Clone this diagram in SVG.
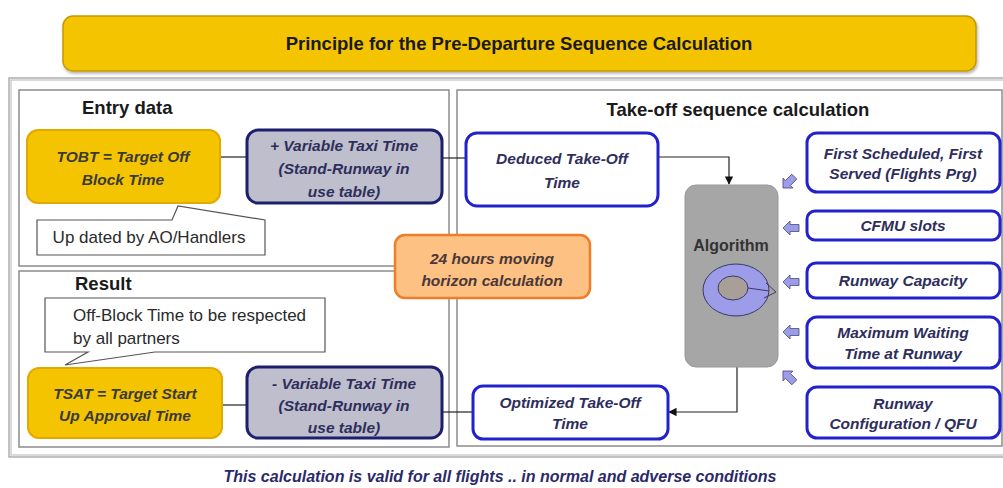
<svg xmlns="http://www.w3.org/2000/svg" width="1003" height="488" viewBox="0 0 1003 488">
<style>
.panel{fill:#fff;stroke:#8c8c8c;stroke-width:1.5}
.frame{fill:none;stroke:#9a9a9a;stroke-width:1.2}
.yel{fill:#F5C400;stroke:#E2A900;stroke-width:2}
.gray{fill:#BEBECC;stroke:#1E1E6E;stroke-width:3}
.blue{fill:#fff;stroke:#2222CC;stroke-width:3}
.org{fill:#FDC184;stroke:#F07D28;stroke-width:2.5}
.call{fill:#fff;stroke:#555;stroke-width:1.2}
.t{font-family:"Liberation Sans",Arial,sans-serif;font-size:15.5px;font-style:italic;font-weight:bold;fill:#2E2E5C;text-anchor:middle}
.ty{fill:#3a3a3a}
.h{font-family:"Liberation Sans",Arial,sans-serif;font-size:18.5px;font-weight:bold;fill:#1a1a1a}
.n{font-family:"Liberation Sans",Arial,sans-serif;font-size:17px;fill:#2a2a2a}
.ln{fill:none;stroke:#222;stroke-width:1.2}
.pa{fill:#9C9CE8;stroke:#4a4a7a;stroke-width:0.8}
</style>
<defs>
<marker id="ah" viewBox="0 0 10 10" refX="9" refY="5" markerWidth="7" markerHeight="7" orient="auto"><path d="M0,0 L10,5 L0,10 z" fill="#111"/></marker>
<path id="parr" d="M0,0 L7,-7 L7,-3.5 L16,-3.5 L16,3.5 L7,3.5 L7,7 Z"/>
<filter id="sh" x="-5%" y="-20%" width="110%" height="150%"><feDropShadow dx="1" dy="2" stdDeviation="1.5" flood-color="#000" flood-opacity="0.3"/></filter>
</defs>
<rect width="1003" height="488" fill="#fff"/>

<g id="title">
<rect x="63" y="16" width="913" height="55" rx="10" fill="#F5C400" stroke="#C49A00" stroke-width="1.5" filter="url(#sh)"/>
<text x="519" y="50" class="h" text-anchor="middle">Principle for the Pre-Departure Sequence Calculation</text>
</g>

<g id="frame">
<rect x="9" y="78" width="1010" height="379" class="frame"/>
<rect x="11" y="80" width="1010" height="375" class="frame" stroke-opacity="0.6"/>
</g>

<g id="panel-entry">
<rect x="19" y="90" width="430" height="176" class="panel"/>
<text x="82" y="114" class="h">Entry data</text>
</g>
<g id="panel-result">
<rect x="19" y="271" width="430" height="176" class="panel"/>
<text x="75" y="290" class="h">Result</text>
</g>
<g id="panel-takeoff">
<rect x="457" y="90" width="545" height="356" class="panel"/>
<text x="738" y="116" class="h" text-anchor="middle">Take-off sequence calculation</text>
</g>

<g id="connectors">
<line x1="220" y1="157" x2="247" y2="157" class="ln"/>
<line x1="442" y1="158" x2="466" y2="158" class="ln"/>
<path d="M658,157 H729 V184" class="ln" marker-end="url(#ah)"/>
<line x1="222" y1="405" x2="247" y2="405" class="ln"/>
<line x1="442" y1="412" x2="473" y2="412" class="ln"/>
<path d="M737,367 V412 H669" class="ln" marker-end="url(#ah)"/>
</g>

<g id="tobt">
<rect x="27" y="130" width="193" height="73" rx="11" class="yel"/>
<text x="123" y="161.5" class="t ty">TOBT = Target Off</text>
<text x="123" y="184.5" class="t ty">Block Time</text>
</g>
<g id="updated">
<path d="M37,220 H172 L178,206 L265,220 V255 H37 Z" class="call"/>
<text x="149" y="243" class="n" text-anchor="middle">Up dated by AO/Handlers</text>
</g>
<g id="var-taxi-plus">
<rect x="247" y="130" width="195" height="73" rx="11" class="gray"/>
<text x="344" y="150.5" class="t">+ Variable Taxi Time</text>
<text x="344" y="173.5" class="t">(Stand-Runway in</text>
<text x="344" y="196.5" class="t">use table)</text>
</g>

<g id="horizon">
<rect x="395" y="235" width="195" height="63" rx="10" class="org"/>
<text x="492" y="263.5" class="t" style="fill:#4a3838">24 hours moving</text>
<text x="492" y="285.5" class="t" style="fill:#4a3838">horizon calculation</text>
</g>

<g id="offblock">
<path d="M45,298 H325 V352 H155 L65,365 L88,352 H45 Z" class="call"/>
<text x="73" y="321" class="n">Off-Block Time to be respected</text>
<text x="73" y="344" class="n">by all partners</text>
</g>
<g id="tsat">
<rect x="28" y="368" width="194" height="70" rx="11" class="yel"/>
<text x="125" y="398.5" class="t ty">TSAT = Target Start</text>
<text x="125" y="420.5" class="t ty">Up Approval Time</text>
</g>
<g id="var-taxi-minus">
<rect x="247" y="367" width="195" height="71" rx="11" class="gray"/>
<text x="344" y="388.5" class="t">- Variable Taxi Time</text>
<text x="344" y="410.5" class="t">(Stand-Runway in</text>
<text x="344" y="432.5" class="t">use table)</text>
</g>

<g id="deduced">
<rect x="466" y="133" width="192" height="73" rx="11" class="blue"/>
<text x="562" y="164" class="t">Deduced Take-Off</text>
<text x="562" y="188" class="t">Time</text>
</g>
<g id="optimized">
<rect x="473" y="386" width="195" height="53" rx="10" class="blue"/>
<text x="570" y="407.5" class="t">Optimized Take-Off</text>
<text x="570" y="428.5" class="t">Time</text>
</g>

<g id="algorithm">
<rect x="685" y="185" width="93" height="182" rx="11" fill="#A6A6A6" stroke="#999" stroke-width="1"/>
<text x="731" y="251" class="h" style="font-size:16px;fill:#333" text-anchor="middle">Algorithm</text>
<ellipse cx="736" cy="290" rx="33" ry="26" fill="#9C9CE8" stroke="#3a3a6a" stroke-width="1"/>
<ellipse cx="733" cy="288" rx="15" ry="12" fill="#A8A098" stroke="#3a3a6a" stroke-width="1"/>
<path d="M748,288 L769,291 M766,283 L776,292 L764,298" fill="none" stroke="#3a3a6a" stroke-width="1"/>
</g>

<g id="fsfs">
<rect x="807" y="133" width="193" height="59" rx="10" class="blue"/>
<text x="903" y="158.5" class="t">First Scheduled, First</text>
<text x="903" y="178.5" class="t">Served (Flights Prg)</text>
</g>
<g id="cfmu">
<rect x="807" y="211" width="193" height="29" rx="8" class="blue"/>
<text x="903" y="230.5" class="t">CFMU slots</text>
</g>
<g id="capacity">
<rect x="807" y="263" width="193" height="35" rx="9" class="blue"/>
<text x="903" y="286" class="t">Runway Capacity</text>
</g>
<g id="waiting">
<rect x="807" y="317" width="193" height="51" rx="10" class="blue"/>
<text x="903" y="337.5" class="t">Maximum Waiting</text>
<text x="903" y="358.5" class="t">Time at Runway</text>
</g>
<g id="config">
<rect x="807" y="387" width="193" height="51" rx="10" class="blue"/>
<text x="903" y="408.5" class="t">Runway</text>
<text x="903" y="428.5" class="t">Configuration / QFU</text>
</g>

<g id="input-arrows">
<use href="#parr" class="pa" transform="translate(783,188) rotate(-45)"/>
<use href="#parr" class="pa" transform="translate(783,228)"/>
<use href="#parr" class="pa" transform="translate(783,282)"/>
<use href="#parr" class="pa" transform="translate(783,332)"/>
<use href="#parr" class="pa" transform="translate(783,371) rotate(45)"/>
</g>

<text x="500" y="482" class="t" style="font-size:16px;fill:#2a2a6a">This calculation is valid for all flights .. in normal and adverse conditions</text>
</svg>
